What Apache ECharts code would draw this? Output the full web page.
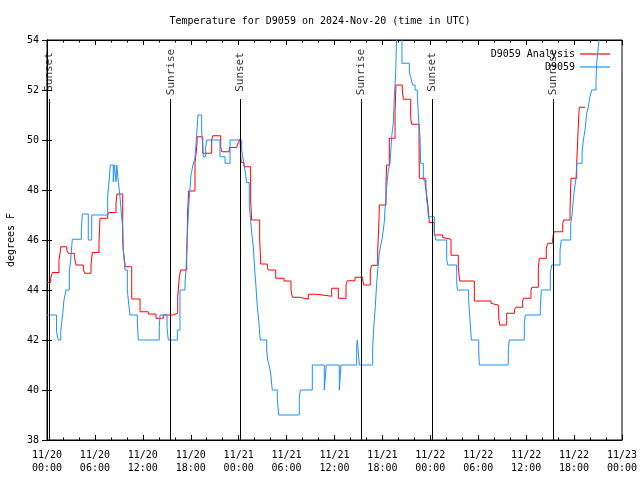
<!DOCTYPE html>
<html>
<head>
<meta charset="utf-8">
<script src="https://cdn.jsdelivr.net/npm/echarts@6/dist/echarts.min.js"></script>
<style>html,body{margin:0;padding:0;background:#fff}#c{width:640px;height:480px}</style>
</head>
<body>
<div id="c"></div>
<script>
// Hours since 2024-11-20 00:00 UTC
const tickLabels = ["11/20\n00:00","11/20\n06:00","11/20\n12:00","11/20\n18:00","11/21\n00:00","11/21\n06:00","11/21\n12:00","11/21\n18:00","11/22\n00:00","11/22\n06:00","11/22\n12:00","11/22\n18:00","11/23\n00:00"];
const yTicks = [38,40,42,44,46,48,50,52,54];
const sunHours = [0.29, 15.49, 24.2, 39.36, 48.25, 63.4];
const sunNames = ["Sunset","Sunrise","Sunset","Sunrise","Sunset","Sunrise"];

const analysis = [
[0,44.3],[0.46,44.47],[0.67,44.7],[1.5,45.2],[1.63,45.47],[1.72,45.73],[2.47,45.6],[2.67,45.47],[3.42,45.33],[3.63,45.0],
[4.55,44.83],[4.72,44.67],[5.51,45.0],[5.67,45.5],[6.51,45.93],[6.64,46.87],[7.6,47.0],[7.73,47.1],[8.64,47.47],[8.77,47.84],
[9.48,46.0],[9.55,45.6],[9.68,45.67],[9.8,44.93],[10.61,43.64],[11.65,43.13],[12.68,43.04],[13.65,42.87],[14.56,43.0],[15.74,43.07],
[16.37,43.73],[16.57,44.53],[16.74,44.8],[17.49,45.2],[17.62,47.2],[17.74,47.96],[18.53,49.07],[18.75,49.73],[18.82,50.13],[19.5,49.47],
[20.62,50.0],[20.75,50.17],[21.75,49.73],[21.88,49.53],[22.83,49.7],[23.75,49.78],[23.96,49.9],[24.17,50.04],[24.26,49.33],[24.33,49.1],
[24.67,48.93],[25.5,47.6],[25.63,46.8],[26.63,46.0],[26.71,45.49],[26.76,45.04],[27.59,44.93],[27.71,44.8],[28.64,44.47],[29.68,44.36],
[30.55,44.0],[30.72,43.71],[31.68,43.65],[31.81,43.63],[32.72,43.83],[33.77,43.75],[35.65,44.07],[36.48,43.67],[37.44,44.2],[37.6,44.37],
[38.57,44.51],[39.53,44.4],[39.66,44.2],[40.48,44.8],[40.66,44.99],[41.41,45.6],[41.57,46.8],[41.61,47.4],[42.45,48.33],[42.53,49.0],
[42.86,50.07],[43.58,51.13],[43.7,52.2],[44.49,52.0],[44.62,51.63],[45.54,50.87],[45.67,50.63],[46.58,50.13],[46.62,48.47],[47.34,48.27],
[47.46,48.0],[47.62,47.6],[47.75,47.2],[47.87,46.7],[48.5,46.2],[49.55,46.1],[49.71,46.03],[50.59,45.39],[51.5,44.9],[51.68,44.36],
[53.51,43.56],[55.6,43.47],[55.72,43.39],[56.56,42.87],[56.69,42.6],[57.56,43.07],[58.52,43.2],[58.69,43.31],[59.56,43.56],[59.69,43.67],
[60.6,44.0],[60.73,44.11],[61.52,44.87],[61.65,45.27],[62.52,45.67],[62.7,45.87],[63.32,46.07],[63.49,46.33],[64.58,46.67],[64.7,46.8],
[65.49,47.2],[65.61,48.47],[66.33,49.1],[66.53,50.6],[66.65,51.31],[67.37,51.31]
];

const observed = [
[0,43.0],[1.19,42.33],[1.41,42.0],[1.72,42.33],[1.84,42.7],[1.97,43.07],[2.13,43.6],[2.38,44.0],[2.79,44.73],[2.97,45.2],
[3.09,45.73],[3.17,46.03],[4.3,46.4],[4.42,47.04],[5.17,46.0],[5.6,47.0],[7.6,47.73],[7.76,48.33],[7.93,49.0],[8.3,48.33],
[8.43,49.0],[8.64,48.33],[8.73,49.0],[8.93,48.33],[9.14,47.73],[9.35,46.9],[9.48,46.5],[9.55,45.6],[9.77,44.8],[10.06,44.0],
[10.18,43.6],[10.39,43.0],[11.31,42.73],[11.43,42.0],[14.06,42.5],[14.15,43.0],[15.03,42.5],[15.19,42.0],[16.32,42.4],[16.65,44.0],
[17.28,44.27],[17.41,44.8],[17.49,45.6],[17.66,46.8],[17.84,47.8],[18.03,48.6],[18.28,49.0],[18.53,49.27],[18.75,50.27],[18.91,51.0],
[19.37,50.27],[19.5,49.8],[19.57,49.33],[19.87,49.73],[20.0,50.0],[21.66,49.33],[22.29,49.07],[22.92,50.0],[24.38,49.6],[24.58,49.2],
[24.79,48.8],[25.0,48.3],[25.33,47.33],[25.5,46.8],[25.63,46.3],[25.83,45.73],[26.01,44.8],[26.17,44.13],[26.33,43.33],[26.51,42.8],
[26.63,42.27],[26.71,42.0],[27.51,41.6],[27.63,41.2],[27.8,41.0],[28.01,40.67],[28.21,40.0],[28.84,39.67],[29.01,39.0],[31.59,39.67],
[31.72,40.0],[33.22,41.0],[34.72,40.0],[34.97,41.0],[36.6,40.0],[36.81,41.0],[38.78,41.73],[38.86,42.0],[39.11,41.0],[40.78,41.73],
[40.95,42.67],[41.11,43.33],[41.28,44.27],[41.45,44.93],[41.61,45.47],[41.79,45.8],[41.95,46.03],[42.11,46.4],[42.26,46.8],[42.32,47.2],
[42.54,48.13],[42.74,48.8],[42.95,49.07],[43.16,50.13],[43.36,50.67],[43.49,51.73],[43.66,52.67],[43.79,54.3],[44.45,53.07],[45.37,52.73],
[45.54,52.5],[45.79,52.2],[46.08,52.0],[46.37,51.8],[46.49,51.07],[46.58,50.6],[46.71,50.13],[46.79,49.07],[47.12,48.4],[47.46,48.13],
[47.54,47.6],[47.67,47.33],[47.75,46.93],[48.5,46.33],[48.67,46.0],[50.05,45.23],[50.18,45.0],[51.3,44.33],[51.38,44.0],[52.8,43.6],
[52.88,43.2],[53.0,42.67],[53.13,42.0],[54.06,41.6],[54.13,41.0],[57.76,41.6],[57.89,42.0],[59.77,42.67],[59.89,43.0],[61.77,43.27],
[61.9,44.0],[63.02,44.67],[63.2,45.0],[64.24,45.6],[64.4,46.0],[65.58,46.67],[65.74,47.0],[65.99,47.9],[66.24,48.47],[66.33,49.07],
[67.0,49.47],[67.16,50.0],[67.37,50.4],[67.58,51.07],[67.78,51.33],[67.99,51.73],[68.21,52.0],[68.75,52.4],[68.83,53.07],[69.03,53.73],[69.25,54.3]
];

const FONT = "DejaVu Sans Mono";
const chart = echarts.init(document.getElementById('c'), null, {renderer:'canvas'});

const xAxisBase = {
  type: 'value', min: 0, max: 72, interval: 6,
  axisLine: {show: true, lineStyle: {color: '#000', width: 1}},
  axisTick: {show: true, inside: true, length: 5, lineStyle: {color: '#000'}},
  minorTick: {show: true, splitNumber: 3, length: 2.5, lineStyle: {color: '#000'}},
  splitLine: {show: false}
};
const yAxisBase = {
  type: 'value', min: 38, max: 54, interval: 2,
  axisLine: {show: true, lineStyle: {color: '#000', width: 1}},
  axisTick: {show: true, inside: true, length: 5, lineStyle: {color: '#000'}},
  splitLine: {show: false}
};

chart.setOption({
  animation: false,
  backgroundColor: '#fff',
  textStyle: {fontFamily: FONT},
  title: {
    text: 'Temperature for D9059 on 2024-Nov-20 (time in UTC)',
    left: 'center', top: 11,
    textStyle: {fontFamily: FONT, fontSize: 10, fontWeight: 'normal', color: '#000'}
  },
  grid: {left: 47, right: 18, top: 40, bottom: 40, containLabel: false, outerBoundsMode: 'none',
    show: true, borderColor: '#000', borderWidth: 1, backgroundColor: 'transparent'},
  legend: {
    data: ['D9059 Analysis', 'D9059'],
    orient: 'vertical', right: 25, top: 43, align: 'right',
    icon: 'rect', itemWidth: 30, itemHeight: 1.2, itemGap: 1,
    textStyle: {fontFamily: FONT, fontSize: 10, color: '#000', lineHeight: 12},
    selectedMode: false
  },
  xAxis: [
    Object.assign({}, xAxisBase, {
      position: 'bottom',
      axisLabel: {show: true, margin: 9, lineHeight: 13, fontFamily: FONT, fontSize: 10, color: '#000',
        formatter: v => tickLabels[Math.round(v / 6)] || ''}
    }),
    Object.assign({}, xAxisBase, {position: 'top', axisLabel: {show: false}})
  ],
  yAxis: [
    Object.assign({}, yAxisBase, {
      position: 'left',
      name: 'degrees F', nameLocation: 'middle', nameGap: 30, nameRotate: 90,
      nameTextStyle: {fontFamily: FONT, fontSize: 10, color: '#000'},
      axisLabel: {show: true, margin: 8, fontFamily: FONT, fontSize: 10, color: '#000',
        formatter: v => (yTicks.indexOf(v) >= 0 ? String(v) : '')}
    }),
    Object.assign({}, yAxisBase, {position: 'right', axisLabel: {show: false}})
  ],
  series: [
    {
      name: 'sun', type: 'scatter', xAxisIndex: 0, yAxisIndex: 0,
      symbolSize: 0, silent: true,
      data: sunHours.map((h, i) => ({name: sunNames[i], value: [h, 52.72]})),
      label: {show: true, position: 'inside', rotate: 90, formatter: p => p.name,
        fontFamily: FONT, fontSize: 11, color: '#000'},
      markLine: {
        silent: true, symbol: ['none', 'none'],
        lineStyle: {color: '#000', width: 1, type: 'solid'},
        label: {show: false},
        data: sunHours.map(h => [{coord: [h, 38]}, {coord: [h, 51.64]}])
      },
      z: 1
    },
    {
      name: 'D9059 Analysis', type: 'line', step: 'end', data: analysis,
      symbol: 'none', showSymbol: false, clip: true,
      lineStyle: {color: '#ff0000', width: 1}, itemStyle: {color: '#ff0000'}, z: 3
    },
    {
      name: 'D9059', type: 'line', step: 'end', data: observed,
      symbol: 'none', showSymbol: false, clip: true,
      lineStyle: {color: '#1e90ff', width: 1}, itemStyle: {color: '#1e90ff'}, z: 4
    }
  ]
});
</script>
</body>
</html>
